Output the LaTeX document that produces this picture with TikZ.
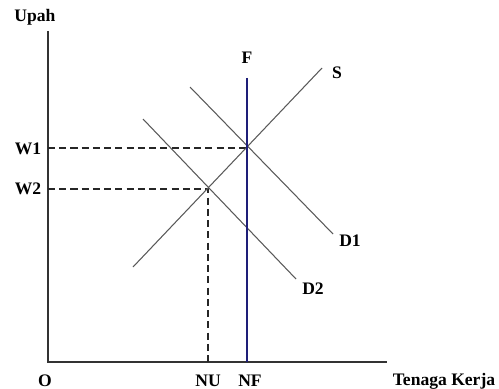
\documentclass[tikz,border=0pt]{standalone}
\usepackage{fontspec}
\setmainfont{Liberation Serif}
\begin{document}
\begin{tikzpicture}[x=0.02cm,y=-0.02cm,
  lbl/.style={font=\fontsize{10}{12}\selectfont\bfseries,inner sep=0pt},
  axis/.style={draw=black!80,line width=0.75pt},
  curve/.style={draw=black!65,line width=0.6pt},
  guide/.style={draw=black!85,line width=0.6pt,dash pattern=on 4pt off 2.4pt},
  fline/.style={draw={rgb,255:red,30;green,30;blue,120},line width=1.7pt}]
\useasboundingbox (0,0) rectangle (499,388);
% axes
\coordinate (ytop) at (48,31);
\coordinate (o) at (48,362);
\coordinate (xend) at (387,362);
\draw[axis] (ytop) -- (o) -- (xend);
% key points
\coordinate (E1) at (247,148);
\coordinate (E2) at (208,189);
\coordinate (w1) at (48,148);
\coordinate (w2) at (48,189);
\coordinate (nu) at (208,362);
% dashed guides
\draw[guide] (w1) -- (E1);
\draw[guide] (w2) -- (E2) -- (nu);
% supply
\coordinate (s0) at (133,267);
\coordinate (s1) at (322,68);
\draw[curve] (s0) -- (s1);
% demand
\coordinate (d1a) at (190,87);
\coordinate (d1b) at (333,234);
\draw[curve] (d1a) -- (d1b);
\coordinate (d2a) at (143,119);
\coordinate (d2b) at (296,279);
\draw[curve] (d2a) -- (d2b);
% F line
\coordinate (f0) at (247,78);
\coordinate (f1) at (247,362);
\draw[fline] (f0) -- (f1);
% labels
\node[lbl] (upah) at (35,17) {Upah};
\node[lbl] (F) at (247,58) {F};
\node[lbl] (S) at (337,73) {S};
\node[lbl] (W1) at (28,149) {W1};
\node[lbl] (W2) at (28,189) {W2};
\node[lbl] (D1) at (350,241) {D1};
\node[lbl] (D2) at (313,289) {D2};
\node[lbl] (O) at (45,381) {O};
\node[lbl] (NU) at (208,381) {NU};
\node[lbl] (NF) at (250,381) {NF};
\node[lbl] (TK) at (444,381) {Tenaga Kerja};
\end{tikzpicture}
\end{document}
